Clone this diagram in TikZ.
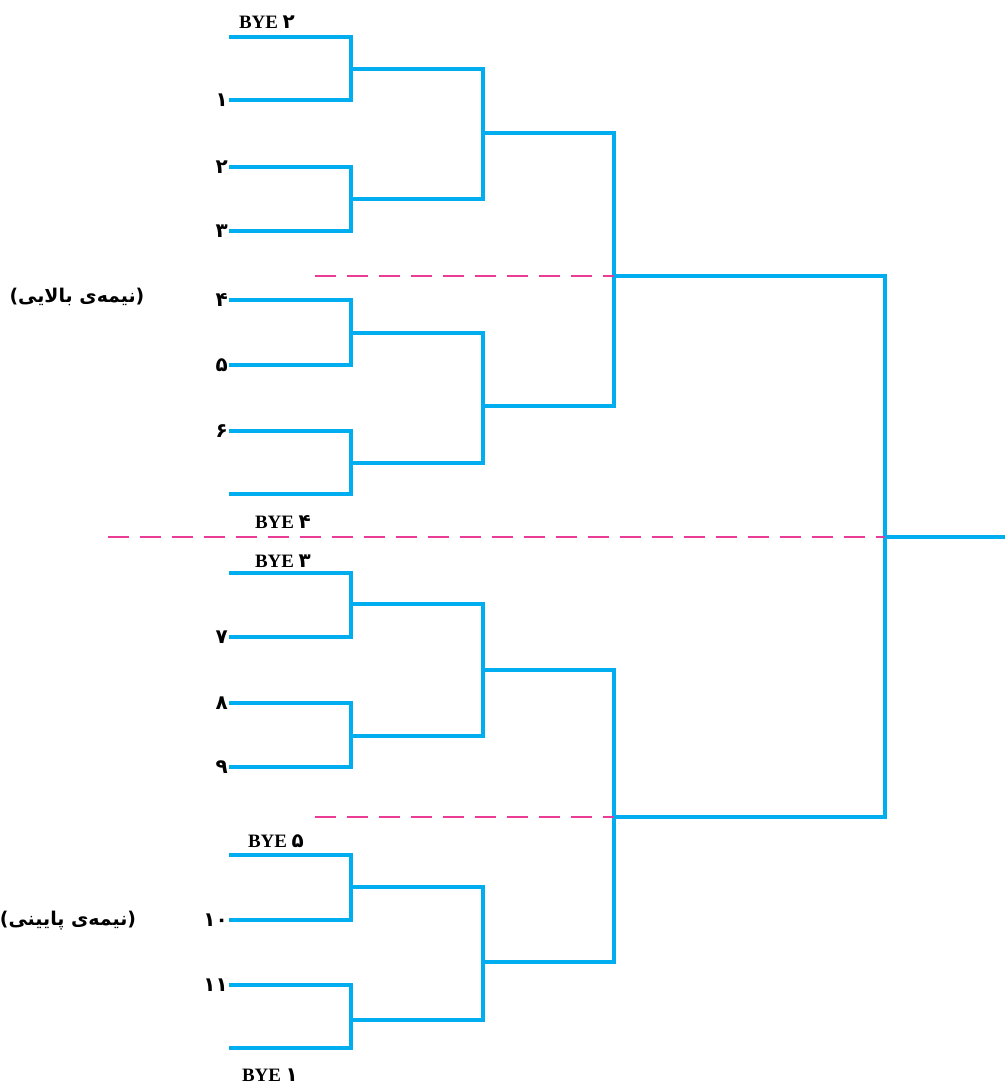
\documentclass[tikz,border=0pt]{standalone}
\usepackage{fontspec}
\setmainfont{Liberation Serif}
\newfontfamily\arabicfont[Script=Arabic]{DejaVu Sans}
\newfontfamily\digfont{DejaVu Sans}
\TeXXeTstate=1
\definecolor{bcyan}{RGB}{0,174,239}
\definecolor{dpink}{RGB}{234,60,150}
\begin{document}
\begin{tikzpicture}[x=1bp,y=-1bp,
  br/.style={draw=bcyan,line width=3.2bp,line join=miter},
  sep/.style={draw=dpink,line width=1.5bp,dash pattern=on 21bp off 11bp},
  num/.style={anchor=east,inner sep=1bp,font=\digfont\bfseries\fontsize{20}{20}\selectfont},
  bye/.style={inner sep=0pt,font=\bfseries\fontsize{19}{19}\selectfont},
  bdig/.style={font=\digfont\bfseries\fontsize{20}{20}\selectfont},
  half/.style={inner sep=0pt,font=\arabicfont\bfseries\fontsize{19}{19}\selectfont}]
\useasboundingbox (0,0) rectangle (1005,1085);
% leaves
\foreach \n/\y in {1/37,2/100,3/167,4/231,5/300,6/365,7/431,8/494,9/573,10/637,11/703,12/767,13/855,14/920,15/985,16/1048}
  \coordinate (t\n) at (229,\y);
% round 2 junctions
\foreach \n/\y in {1/69,2/199,3/333,4/463,5/604,6/736,7/887,8/1020}
  \coordinate (m\n) at (351,\y);
% round 3 junctions
\foreach \n/\y in {1/133,2/406,3/670,4/962}
  \coordinate (q\n) at (483,\y);
\coordinate (s1) at (614,276);
\coordinate (s2) at (614,817);
\coordinate (f) at (885,537);
\coordinate (fend) at (1005,537);
\coordinate (d1) at (315,276);
\coordinate (d2) at (108,537);
\coordinate (d3) at (315,817);
% brackets
\draw[br] (t1) -| (m1) |- (t2);
\draw[br] (t3) -| (m2) |- (t4);
\draw[br] (t5) -| (m3) |- (t6);
\draw[br] (t7) -| (m4) |- (t8);
\draw[br] (t9) -| (m5) |- (t10);
\draw[br] (t11) -| (m6) |- (t12);
\draw[br] (t13) -| (m7) |- (t14);
\draw[br] (t15) -| (m8) |- (t16);
\draw[br] (m1) -| (q1) |- (m2);
\draw[br] (m3) -| (q2) |- (m4);
\draw[br] (m5) -| (q3) |- (m6);
\draw[br] (m7) -| (q4) |- (m8);
\draw[br] (q1) -| (s1) |- (q2);
\draw[br] (q3) -| (s2) |- (q4);
\draw[br] (s1) -| (f) |- (s2);
\draw[br] (f) -- (fend);
% dashed separators
\draw[sep] (d1) -- (s1);
\draw[sep] (d2) -- (f);
\draw[sep] (d3) -- (s2);
% numbers
\node[num] (n1) at (t2) {۱};
\node[num] (n2) at (t3) {۲};
\node[num] (n3) at (t4) {۳};
\node[num] (n4) at (t5) {۴};
\node[num] (n5) at (t6) {۵};
\node[num] (n6) at (t7) {۶};
\node[num] (n7) at (t10) {۷};
\node[num] (n8) at (t11) {۸};
\node[num] (n9) at (t12) {۹};
\node[num] (n10) at (t14) {۱۰};
\node[num] (n11) at (t15) {۱۱};
% bye labels
\node[bye] (b2) at (267,22) {BYE {\digfont\fontsize{20}{20}\selectfont ۲}};
\node[bye] (b4) at (283,522) {BYE {\digfont\fontsize{20}{20}\selectfont ۴}};
\node[bye] (b3) at (283,561) {BYE {\digfont\fontsize{20}{20}\selectfont ۳}};
\node[bye] (b5) at (276,841) {BYE {\digfont\fontsize{20}{20}\selectfont ۵}};
\node[bye] (b1) at (270,1075) {BYE {\digfont\fontsize{20}{20}\selectfont ۱}};
% halves
\node[half] (h1) at (77,297) {\beginR(نیمه‌ی بالایی)\endR};
\node[half] (h2) at (68,921) {\beginR(نیمه‌ی پایینی)\endR};
\end{tikzpicture}
\end{document}
